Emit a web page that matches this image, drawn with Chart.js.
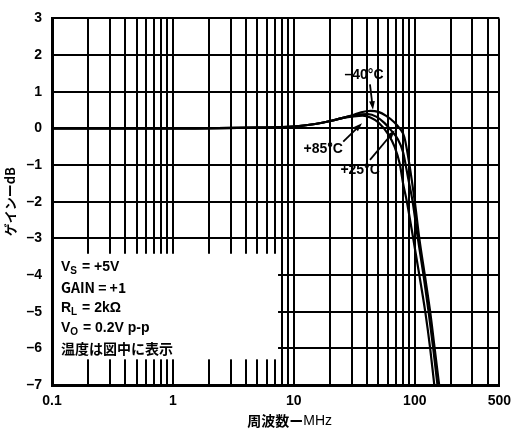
<!DOCTYPE html>
<html>
<head>
<meta charset="utf-8">
<script src="https://cdn.jsdelivr.net/npm/chart.js@4.4.1/dist/chart.umd.min.js"></script>
<style>
  body { margin: 0; background: #fff; }
  canvas { display: block; }
</style>
</head>
<body>
<canvas id="chart" width="519" height="432"></canvas>
<script>
// Gain vs frequency, three temperatures
var freqM40 = [0.1, 1, 5, 10, 15, 20, 25, 30, 36, 43, 50, 58, 68, 75, 82, 90, 100, 109, 121, 134, 146, 159];
var gainM40 = [0, 0, 0.02, 0.05, 0.12, 0.2, 0.28, 0.35, 0.44, 0.48, 0.45, 0.34, 0.16, 0, -0.24, -0.96, -2.0, -3.0, -4.0, -5.0, -6.0, -7.0];

var freq25 = [0.1, 1, 5, 10, 15, 20, 25, 30, 35, 41, 48, 56, 64, 72, 80, 88, 96, 106, 118, 130, 142, 154];
var gain25 = [0, 0, 0.02, 0.05, 0.12, 0.2, 0.28, 0.34, 0.38, 0.39, 0.32, 0.15, -0.06, -0.28, -0.65, -1.35, -2.0, -3.0, -4.0, -5.0, -6.0, -7.0];

var freq85 = [0.1, 1, 5, 10, 15, 20, 25, 30, 37, 43, 50, 60, 68, 75, 80, 86, 97, 109, 122, 134, 145];
var gain85 = [0, 0, 0.02, 0.05, 0.12, 0.2, 0.28, 0.32, 0.35, 0.3, 0.16, -0.15, -0.5, -0.96, -1.5, -2.0, -3.0, -4.0, -5.0, -6.0, -7.0];

var xTickLabels = [0.1, 1, 10, 100, 500];
var yMin = -7, yMax = 3;

var condLines = ["V|S| = +5V", "GAIN = +1", "R|L| = 2kΩ", "V|O| = 0.2V p-p", "温度は図中に表示"];

// temperature labels: text position and arrow (in MHz / dB)
var tempLabels = [
  { text: "–40°C", x: 38.0, y: 1.46, from: [42.6, 1.2], to: [45.1, 0.51] },
  { text: "+85°C", x: 17.5, y: -0.57, from: [25.6, -0.36], to: [36.6, 0.14] },
  { text: "+25°C", x: 35.3, y: -1.14, from: [42.6, -0.86], to: [68.4, -0.05] }
];

// white box holding the test conditions (MHz / dB)
var condBox = { x0: 0.1, x1: 7.4, y0: -3.42, y1: -6.3 };

function pts(fs, gs) {
  return fs.map(function (f, i) { return { x: f, y: gs[i] }; });
}

// grid at 1..9 in every decade
var gridFreqs = [];
[0.1, 1, 10, 100].forEach(function (p) {
  for (var m = 1; m <= 9; m++) {
    var v = Number((m * p).toPrecision(6));
    if (v <= 500) gridFreqs.push(v);
  }
});

var latin = "'Liberation Sans', Arial, sans-serif";
var boldFont = "bold 14px " + latin;

function arrow(ctx, x0, y0, x1, y1) {
  var a = Math.atan2(y1 - y0, x1 - x0);
  var len = 9;
  ctx.beginPath();
  ctx.moveTo(x0, y0);
  ctx.lineTo(x1 - Math.cos(a) * len * 0.8, y1 - Math.sin(a) * len * 0.8);
  ctx.stroke();
  ctx.beginPath();
  ctx.moveTo(x1, y1);
  ctx.lineTo(x1 - len * Math.cos(a - 0.33), y1 - len * Math.sin(a - 0.33));
  ctx.lineTo(x1 - len * Math.cos(a + 0.33), y1 - len * Math.sin(a + 0.33));
  ctx.closePath();
  ctx.fill();
}

var annotations = {
  id: "annotations",
  beforeDatasetsDraw: function (chart) {
    var ctx = chart.ctx;
    var xs = chart.scales.x, ys = chart.scales.y;
    var left = xs.getPixelForValue(condBox.x0) + 2;
    var right = xs.getPixelForValue(condBox.x1);
    var top = ys.getPixelForValue(condBox.y0);
    var bottom = ys.getPixelForValue(condBox.y1);
    ctx.save();
    ctx.fillStyle = "#fff";
    ctx.fillRect(left, top, right - left, bottom - top);

    ctx.fillStyle = "#000";
    ctx.textBaseline = "middle";
    ctx.textAlign = "left";
    var ty = top + 13;
    condLines.forEach(function (line) {
      var parts = line.split("|");
      var x = left + 7;
      if (parts.length === 1) {
        ctx.font = "bold 14px 'Noto Sans CJK JP', sans-serif";
        ctx.fillText(line, x, ty);
      } else {
        ctx.font = "bold 14px " + latin;
        ctx.fillText(parts[0], x, ty);
        x += ctx.measureText(parts[0]).width;
        ctx.font = "bold 10px " + latin;
        ctx.fillText(parts[1], x, ty + 4);
        x += ctx.measureText(parts[1]).width + 1;
        ctx.font = "bold 14px " + latin;
        ctx.fillText(parts[2], x, ty);
      }
      ty += 20.5;
    });
    ctx.restore();
  },
  afterDraw: function (chart) {
    var ctx = chart.ctx;
    var xs = chart.scales.x, ys = chart.scales.y;
    ctx.save();
    ctx.fillStyle = "#000";
    ctx.strokeStyle = "#000";
    ctx.lineWidth = 1.8;
    ctx.font = boldFont;
    ctx.textAlign = "center";
    ctx.textBaseline = "middle";
    tempLabels.forEach(function (t) {
      ctx.fillText(t.text, xs.getPixelForValue(t.x), ys.getPixelForValue(t.y));
      arrow(ctx,
        xs.getPixelForValue(t.from[0]), ys.getPixelForValue(t.from[1]),
        xs.getPixelForValue(t.to[0]), ys.getPixelForValue(t.to[1]));
    });

    // x axis title: bold Japanese part + plain unit
    var a = "周波数ー", b = "MHz";
    ctx.font = "bold 14px 'Noto Sans CJK JP', sans-serif";
    var wa = ctx.measureText(a).width;
    ctx.font = "14px " + latin;
    var wb = ctx.measureText(b).width;
    var cx = (chart.chartArea.left + chart.chartArea.right) / 2 + 14;
    var x0 = cx - (wa + wb) / 2;
    ctx.textAlign = "left";
    ctx.font = "bold 14px 'Noto Sans CJK JP', sans-serif";
    ctx.fillText(a, x0, 421);
    ctx.font = "14px " + latin;
    ctx.fillText(b, x0 + wa, 421);
    ctx.restore();
  }
};

function series(label, fs, gs) {
  return {
    label: label,
    data: pts(fs, gs),
    borderColor: "#000",
    borderWidth: 2.2,
    pointRadius: 0,
    fill: false,
    cubicInterpolationMode: "monotone"
  };
}

new Chart(document.getElementById("chart"), {
  type: "line",
  data: {
    datasets: [
      series("-40°C", freqM40, gainM40),
      series("+25°C", freq25, gain25),
      series("+85°C", freq85, gain85)
    ]
  },
  options: {
    responsive: false,
    animation: false,
    layout: { padding: { top: 15, right: 16, bottom: 0, left: 0 } },
    plugins: { legend: { display: false }, tooltip: { enabled: false } },
    scales: {
      x: {
        type: "logarithmic",
        min: 0.1,
        max: 500,
        afterBuildTicks: function (scale) {
          scale.ticks = gridFreqs.map(function (v) { return { value: v }; });
        },
        afterFit: function (scale) { scale.height = 47; },
        grid: { color: "#000", lineWidth: 2, drawTicks: false },
        border: { color: "#000", width: 3 },
        ticks: {
          autoSkip: false,
          maxRotation: 0,
          padding: 8,
          color: "#000",
          font: { family: latin, size: 14, weight: "bold" },
          callback: function (v) {
            return xTickLabels.indexOf(v) >= 0 ? String(v) : "";
          }
        }
      },
      y: {
        min: yMin,
        max: yMax,
        afterFit: function (scale) { scale.width = 52; },
        grid: { color: "#000", lineWidth: 2, drawTicks: false },
        border: { color: "#000", width: 3 },
        ticks: {
          stepSize: 1,
          padding: 10,
          color: "#000",
          font: { family: latin, size: 14, weight: "bold" },
          callback: function (v) { return String(v).replace("-", "–"); }
        },
        title: {
          display: true,
          text: "ゲインーdB",
          color: "#000",
          padding: { top: 2, bottom: 0 },
          font: { family: "'Noto Sans CJK JP', 'Liberation Sans', sans-serif", size: 13, weight: "bold" }
        }
      }
    }
  },
  plugins: [annotations]
});
</script>
</body>
</html>
